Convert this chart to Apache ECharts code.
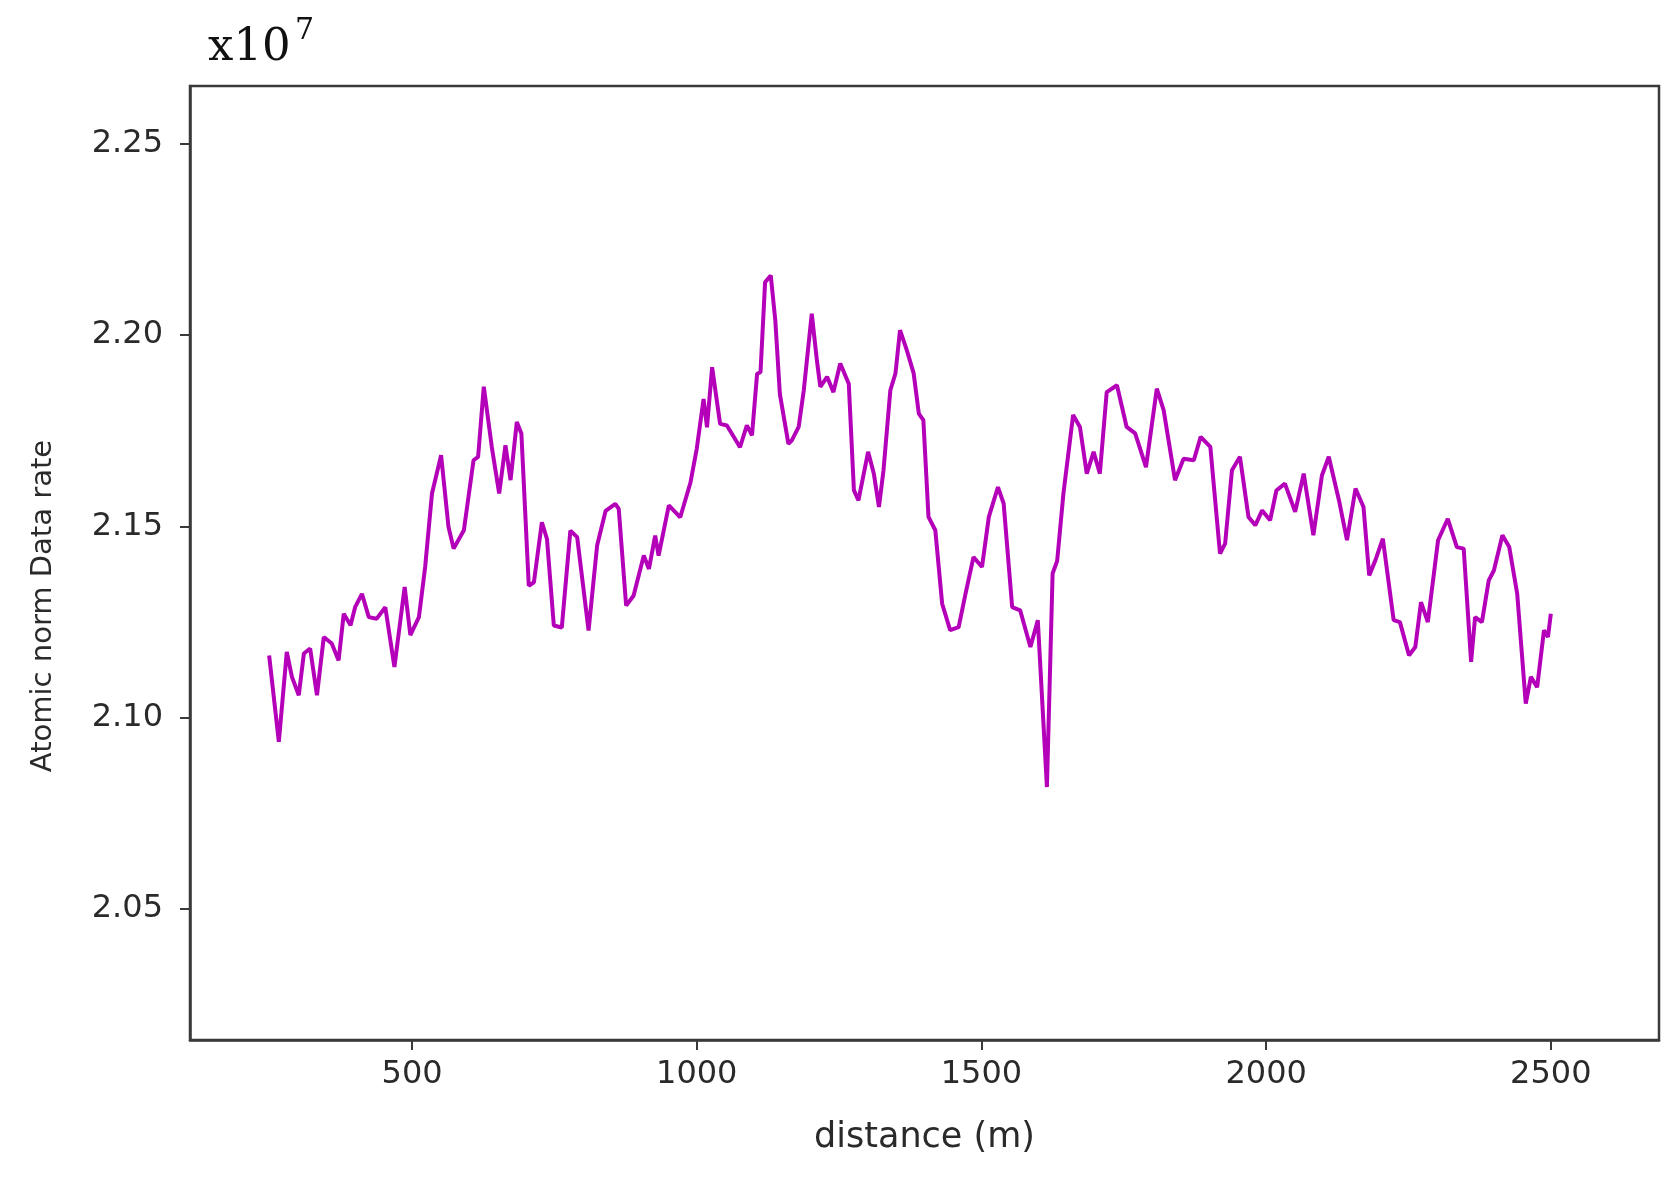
<!DOCTYPE html>
<html>
<head>
<meta charset="utf-8">
<script src="https://cdn.jsdelivr.net/npm/echarts@6/dist/echarts.min.js"></script>
<style>
  html, body { margin: 0; padding: 0; background: #ffffff; }
  #chart { width: 1680px; height: 1179px; }
</style>
</head>
<body>
<div id="chart"></div>
<script>
// distance (m)
const distances = [
  249, 266, 280, 289, 301, 310, 321, 333, 345, 359, 371, 380, 392, 400, 412, 424, 438, 453, 469, 487,
  497, 512, 523, 535, 551, 564, 573, 591, 608, 616, 626, 640, 653, 664, 673, 684, 692, 705, 714, 728,
  737, 749, 763, 778, 790, 810, 825, 840, 857, 863, 876, 889, 907, 916, 927, 933, 951, 971, 989, 1000,
  1012, 1018, 1027, 1041, 1053, 1076, 1088, 1097, 1106, 1112, 1120, 1130, 1138, 1146, 1161, 1167, 1179, 1188, 1202, 1211,
  1217, 1229, 1240, 1252, 1267, 1276, 1284, 1301, 1311, 1320, 1328, 1340, 1349, 1357, 1369, 1381, 1390, 1398, 1407, 1419,
  1431, 1445, 1460, 1472, 1486, 1501, 1513, 1529, 1539, 1554, 1568, 1586, 1599, 1615, 1625, 1633, 1644, 1661, 1673, 1685,
  1697, 1708, 1720, 1738, 1755, 1770, 1789, 1808, 1820, 1840, 1855, 1873, 1885, 1902, 1919, 1928, 1940, 1954, 1969, 1981,
  1993, 2007, 2018, 2033, 2051, 2066, 2083, 2098, 2110, 2128, 2142, 2157, 2171, 2181, 2192, 2205, 2224, 2235, 2251, 2262,
  2272, 2284, 2302, 2319, 2335, 2347, 2360, 2367, 2379, 2391, 2400, 2415, 2427, 2441, 2456, 2465, 2476, 2488, 2495, 2500
];
// Atomic norm Data rate (in units of 10^7)
const rates = [
  2.1163, 2.0937, 2.1172, 2.1107, 2.1059, 2.1168, 2.1181, 2.1059, 2.1211, 2.1194, 2.1150, 2.1272, 2.1242, 2.1289, 2.1324, 2.1263, 2.1259, 2.1289, 2.1133, 2.1342,
  2.1216, 2.1263, 2.1394, 2.1586, 2.1686, 2.1499, 2.1442, 2.1490, 2.1673, 2.1682, 2.1865, 2.1708, 2.1586, 2.1712, 2.1621, 2.1773, 2.1743, 2.1345, 2.1354, 2.1511,
  2.1467, 2.1241, 2.1236, 2.1489, 2.1472, 2.1228, 2.1450, 2.1541, 2.1559, 2.1546, 2.1293, 2.1319, 2.1424, 2.1389, 2.1476, 2.1424, 2.1555, 2.1524, 2.1615, 2.1703,
  2.1833, 2.1759, 2.1916, 2.1768, 2.1764, 2.1707, 2.1764, 2.1738, 2.1899, 2.1903, 2.2138, 2.2156, 2.2038, 2.1846, 2.1716, 2.1725, 2.1760, 2.1856, 2.2056, 2.1934,
  2.1865, 2.1891, 2.1851, 2.1926, 2.1873, 2.1595, 2.1568, 2.1695, 2.1638, 2.1551, 2.1647, 2.1856, 2.1900, 2.2013, 2.1960, 2.1900, 2.1795, 2.1778, 2.1525, 2.1490,
  2.1298, 2.1229, 2.1237, 2.1324, 2.1420, 2.1394, 2.1525, 2.1603, 2.1560, 2.1289, 2.1281, 2.1185, 2.1255, 2.0819, 2.1377, 2.1410, 2.1586, 2.1791, 2.1760, 2.1638,
  2.1695, 2.1638, 2.1851, 2.1869, 2.1760, 2.1743, 2.1655, 2.1860, 2.1804, 2.1621, 2.1677, 2.1673, 2.1734, 2.1708, 2.1429, 2.1455, 2.1647, 2.1682, 2.1525, 2.1503,
  2.1542, 2.1516, 2.1594, 2.1612, 2.1538, 2.1638, 2.1477, 2.1633, 2.1682, 2.1568, 2.1464, 2.1599, 2.1551, 2.1372, 2.1412, 2.1468, 2.1255, 2.1250, 2.1163, 2.1185,
  2.1302, 2.1250, 2.1464, 2.1520, 2.1446, 2.1442, 2.1146, 2.1263, 2.1250, 2.1359, 2.1385, 2.1477, 2.1446, 2.1324, 2.1037, 2.1107, 2.1080, 2.1229, 2.1211, 2.1272
];
const xTicks = [500, 1000, 1500, 2000, 2500];
const yTicks = [2.05, 2.10, 2.15, 2.20, 2.25];

const seriesData = distances.map((d, i) => [d, rates[i]]);

const chart = echarts.init(document.getElementById('chart'), null, { renderer: 'canvas' });
const axisColor = '#3a3a3a';
const textColor = '#2a2a2a';
const sans = '"DejaVu Sans", sans-serif';
const serif = '"DejaVu Serif", serif';

chart.setOption({
  animation: false,
  backgroundColor: '#ffffff',
  grid: {
    left: 190, right: 21, top: 86, bottom: 139,
    show: true, borderColor: axisColor, borderWidth: 2.5, backgroundColor: 'transparent'
  },
  graphic: [
    { type: 'text', x: 208, y: 48, style: { text: 'x10', fontSize: 45, fontFamily: serif, fill: '#111', align: 'left', verticalAlign: 'middle' } },
    { type: 'text', x: 295, y: 31, style: { text: '7', fontSize: 30, fontFamily: serif, fill: '#111', align: 'left', verticalAlign: 'middle' } }
  ],
  xAxis: {
    type: 'value',
    min: 110, max: 2690,
    name: 'distance (m)',
    nameLocation: 'middle',
    nameGap: 80,
    nameTextStyle: { fontSize: 35, color: textColor, fontFamily: sans },
    splitLine: { show: false },
    axisLine: { show: true, onZero: false, lineStyle: { color: axisColor, width: 2.5 } },
    axisTick: { show: true, customValues: xTicks, length: 10, lineStyle: { color: axisColor, width: 2 } },
    axisLabel: { customValues: xTicks, fontSize: 32, color: textColor, fontFamily: sans, margin: 19,
      formatter: v => String(v) }
  },
  yAxis: {
    type: 'value',
    min: 2.0158, max: 2.2651,
    name: 'Atomic norm Data rate',
    nameLocation: 'middle',
    nameGap: 132,
    nameRotate: 90,
    nameTextStyle: { fontSize: 29, color: textColor, fontFamily: sans, padding: [0, 86, 0, 0] },
    splitLine: { show: false },
    axisLine: { show: true, onZero: false, lineStyle: { color: axisColor, width: 2.5 } },
    axisTick: { show: true, customValues: yTicks, length: 10, lineStyle: { color: axisColor, width: 2 } },
    axisLabel: { customValues: yTicks, fontSize: 32, color: textColor, fontFamily: sans, margin: 27,
      formatter: v => v.toFixed(2) }
  },
  series: [{
    type: 'line',
    data: seriesData,
    showSymbol: false,
    smooth: false,
    lineStyle: { color: '#b400b8', width: 4 },
    itemStyle: { color: '#b400b8' }
  }]
});
</script>
</body>
</html>
